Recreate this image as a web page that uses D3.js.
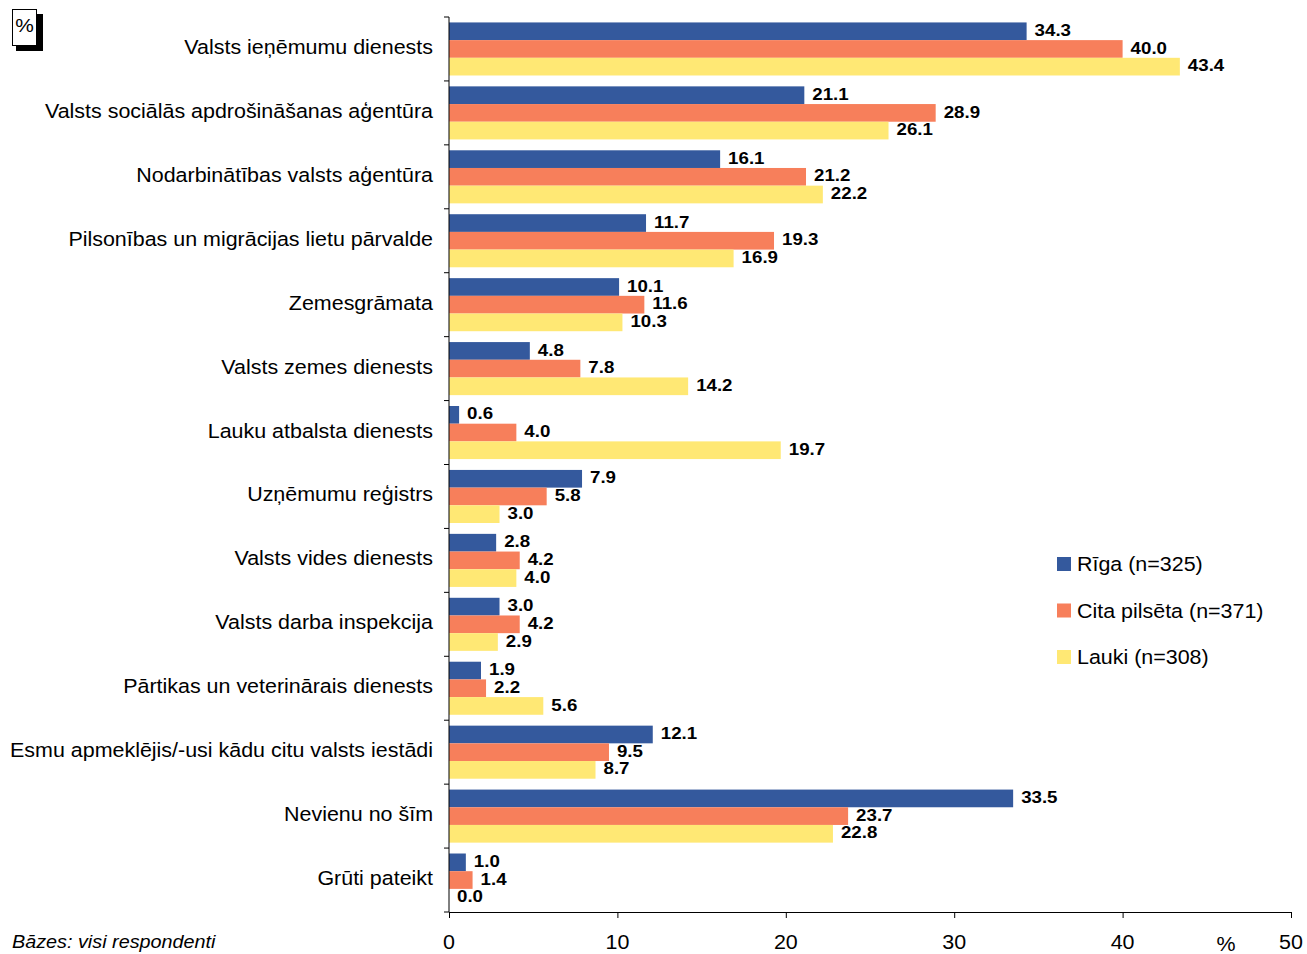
<!DOCTYPE html>
<html><head><meta charset="utf-8">
<script src="https://cdn.jsdelivr.net/npm/d3@7"></script>
<style>body{margin:0;background:#fff;} text{font-family:"Liberation Sans",Arial,sans-serif;}</style>
</head><body>
<svg id="c" width="1307" height="954"></svg>
<script>
const categories = ["Valsts ieņēmumu dienests","Valsts sociālās apdrošināšanas aģentūra","Nodarbinātības valsts aģentūra","Pilsonības un migrācijas lietu pārvalde","Zemesgrāmata","Valsts zemes dienests","Lauku atbalsta dienests","Uzņēmumu reģistrs","Valsts vides dienests","Valsts darba inspekcija","Pārtikas un veterinārais dienests","Esmu apmeklējis/-usi kādu citu valsts iestādi","Nevienu no šīm","Grūti pateikt"];
const seriesNames = ["Rīga (n=325)","Cita pilsēta (n=371)","Lauki (n=308)"];
const riga  = [34.3,21.1,16.1,11.7,10.1,4.8,0.6,7.9,2.8,3.0,1.9,12.1,33.5,1.0];
const cita  = [40.0,28.9,21.2,19.3,11.6,7.8,4.0,5.8,4.2,4.2,2.2,9.5,23.7,1.4];
const lauki = [43.4,26.1,22.2,16.9,10.3,14.2,19.7,3.0,4.0,2.9,5.6,8.7,22.8,0.0];
const xTicks = [0,10,20,30,40,50];
const colors = ["#34599D","#F77F5B","#FFE874"];

const series = [riga, cita, lauki];
const SX = 1.1;
const svg = d3.select("#c");
function txt(x, y, s, o) {
  o = o || {};
  const t = svg.append("text")
    .attr("transform", `translate(${x},${y}) scale(${SX},1)`)
    .attr("font-size", (o.size || 19.5) + "px")
    .attr("fill", "#000")
    .attr("text-anchor", o.anchor || "start")
    .attr("dy", o.dy || "0.36em")
    .text(s);
  if (o.bold) t.attr("font-weight", "bold");
  if (o.italic) t.attr("font-style", "italic");
  return t;
}

const x = d3.scaleLinear().domain([0,50]).range([449,1291]);
const y = d3.scaleBand().domain(categories).range([17,912]).paddingInner(0.17).paddingOuter(0.085);
const y1 = d3.scaleBand().domain([0,1,2]).range([0,y.bandwidth()]);

// bars
categories.forEach((c,i)=>{
  series.forEach((s,k)=>{
    svg.append("rect").attr("x",x(0)).attr("y",y(c)+y1(k)).attr("width",x(s[i])-x(0)).attr("height",y1.bandwidth()).attr("fill",colors[k]);
  });
});
categories.forEach((c,i)=>{
  series.forEach((s,k)=>{
    txt(x(s[i])+8, y(c)+y1(k)+y1.bandwidth()/2-1.5, s[i].toFixed(1), {size:17, bold:true});
  });
});

// y axis
const yb = d3.scaleLinear().domain([0,14]).range([17,912]);
svg.append("line").attr("x1",449).attr("x2",449).attr("y1",17).attr("y2",912).attr("stroke","#000").attr("stroke-width",1);
d3.range(0,15).forEach(i=>{
  svg.append("line").attr("x1",444).attr("x2",449).attr("y1",yb(i)).attr("y2",yb(i)).attr("stroke","#000");
});
categories.forEach(c=>{
  txt(433, y(c)+y.bandwidth()/2-2, c, {anchor:"end"});
});

// x axis
const xa = svg.append("g").attr("transform","translate(0,912)")
  .call(d3.axisBottom(x).tickValues(xTicks).tickSize(6).tickSizeOuter(0).tickFormat(""));
xa.select(".domain").attr("stroke","#000");
xTicks.forEach(v=>{ txt(x(v), 942, d3.format("d")(v), {anchor:"middle"}); });
txt(1226, 944, "%", {anchor:"middle"});

// legend
seriesNames.forEach((n,k)=>{
  const ly = 564 + k*46.5;
  svg.append("rect").attr("x",1057).attr("y",ly-7).attr("width",14).attr("height",14).attr("fill",colors[k]);
  txt(1077, ly, n);
});

// % box
svg.append("rect").attr("x",16).attr("y",14).attr("width",27).attr("height",37).attr("fill","#000");
svg.append("rect").attr("x",12.5).attr("y",9.5).attr("width",24).attr("height",36).attr("fill","#fff").attr("stroke","#000").attr("stroke-width",1);
txt(24.5, 25, "%", {anchor:"middle", size:19});

// footnote
txt(12, 948, "Bāzes: visi respondenti", {size:18, italic:true, dy:"0"});
</script>
</body></html>
